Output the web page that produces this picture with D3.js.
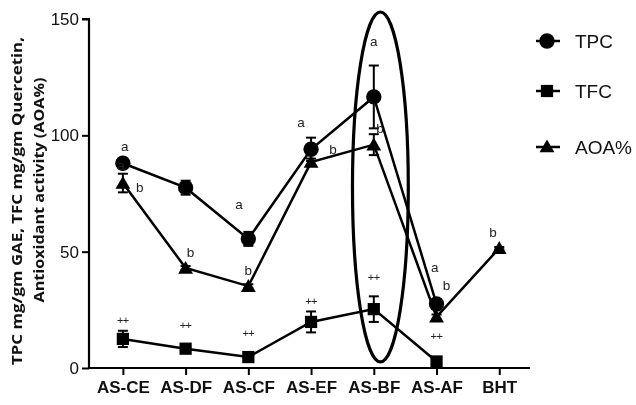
<!DOCTYPE html>
<html><head><meta charset="utf-8">
<script src="https://cdn.jsdelivr.net/npm/d3@7"></script>
<style>body{margin:0;background:#fff}svg{display:block;will-change:transform}</style>
</head><body>
<script>
const categories = ["AS-CE","AS-DF","AS-CF","AS-EF","AS-BF","AS-AF","BHT"];
const yTicks = [0,50,100,150];
const tpc = [88, 77.5, 55.5, 94, 116.5, 27.5, null];
const tpcErr = [1.5, 3, 3, 5, 13.5, 2, null];
const tfc = [12.5, 8.3, 4.7, 19.8, 25.3, 2.8, null];
const tfcErr = [3.5, 1.5, 1.2, 4.5, 5.5, 0.8, null];
const aoa = [79.5, 43, 35.2, 88.5, 96, 22, 51.5];
const aoaErr = [4, 0.8, 0.8, 1.5, 4.5, 1, 0.5];
const tpcLetters = ["a","a","a","a","a","a"];
const tpcLetterIdx = [0.03, -0.03, 1.85, 2.84, 4, 4.97];
const tpcLetterVal = [95.4, 87.2, 70.5, 105.7, 140.5, 43.4];
const aoaLetters = ["b","b","b","b","b","b","b"];
const aoaLetterIdx = [0.27, 1.08, 2, 3.35, 4.1, 5.16, 5.9];
const aoaLetterVal = [77.8, 49.8, 42.1, 94.1, 103.1, 35.7, 58.4];
const tfcMarks = ["++","++","++","++","++","++"];
const tfcMarkVal = [20.6, 18.5, 15, 28.8, 39.1, 13.8];
const legendNames = ["TPC","TFC","AOA%"];
const yTitle = ["TPC mg/gm GAE, TFC mg/gm Quercetin,", "Antioxidant activity (AOA%)"];
const ellipseIdx = [3.66, 4.55];
const ellipseVal = [2.6, 153];

const W = 636, H = 405;
const svg = d3.select("body").append("svg").attr("width", W).attr("height", H);
const x = d3.scaleLinear().domain([-0.54, 6.49]).range([89, 530]);
const y = d3.scaleLinear().domain([0, 150]).range([368, 19]);

// axes
const yAxis = svg.append("g").attr("transform", `translate(${x(-0.54)},0)`)
  .call(d3.axisLeft(y).tickValues(yTicks).tickSize(7).tickPadding(3));
yAxis.select(".domain").attr("stroke-width", 2.2).attr("d", `M-7,${y(150)}H0V${y(0)}`);
yAxis.selectAll(".tick line").attr("stroke-width", 2);
yAxis.selectAll(".tick text").attr("font-family", "Liberation Sans, Arial, sans-serif").attr("font-size", 17).attr("fill","#111");

const xAxis = svg.append("g").attr("transform", `translate(0,${y(0)})`)
  .call(d3.axisBottom(x).tickValues(d3.range(categories.length)).tickFormat(i => categories[i]).tickSize(7).tickPadding(6));
xAxis.select(".domain").attr("stroke-width", 2.2).attr("d", `M${x(-0.54)},0H${x(6.49)}`);
xAxis.selectAll(".tick line").attr("stroke-width", 2);
xAxis.selectAll(".tick text").attr("font-family", "Liberation Sans, Arial, sans-serif").attr("font-size", 17).attr("font-weight", "bold").attr("fill","#111");

// y title
const yt = svg.append("g").attr("transform", "rotate(-90)");
const titleCenters = [201, 190], titleBase = [22, 44], titleLen = [328, 225];
yTitle.forEach((t, i) => {
  yt.append("text").attr("x", -titleCenters[i]).attr("y", titleBase[i]).attr("text-anchor", "middle")
    .attr("font-family", "Open Sans, sans-serif").attr("font-weight", "bold").attr("font-size", 15)
    .attr("textLength", titleLen[i]).attr("lengthAdjust", "spacingAndGlyphs")
    .attr("fill", "#111").text(t);
});

// ellipse
svg.append("ellipse")
  .attr("cx", (x(ellipseIdx[0]) + x(ellipseIdx[1])) / 2)
  .attr("cy", (y(ellipseVal[0]) + y(ellipseVal[1])) / 2)
  .attr("rx", (x(ellipseIdx[1]) - x(ellipseIdx[0])) / 2)
  .attr("ry", (y(ellipseVal[0]) - y(ellipseVal[1])) / 2)
  .attr("fill", "none").attr("stroke", "#000").attr("stroke-width", 3.2);

const line = d3.line().defined(d => d.v != null).x(d => x(d.i)).y(d => y(d.v));
function series(vals) { return vals.map((v, i) => ({i, v})); }

function drawErr(vals, errs) {
  const g = svg.append("g").attr("stroke", "#000").attr("stroke-width", 2);
  vals.forEach((v, i) => {
    if (v == null || !errs[i]) return;
    const cx = x(i), y1 = y(v + errs[i]), y2 = y(v - errs[i]);
    g.append("line").attr("x1", cx).attr("x2", cx).attr("y1", y1).attr("y2", y2);
    g.append("line").attr("x1", cx - 5).attr("x2", cx + 5).attr("y1", y1).attr("y2", y1);
    g.append("line").attr("x1", cx - 5).attr("x2", cx + 5).attr("y1", y2).attr("y2", y2);
  });
}

[tpc, tfc, aoa].forEach(vals => {
  svg.append("path").datum(series(vals)).attr("d", line)
    .attr("fill", "none").attr("stroke", "#000").attr("stroke-width", 2.5);
});
drawErr(tpc, tpcErr); drawErr(tfc, tfcErr); drawErr(aoa, aoaErr);

const sym = [d3.symbolCircle, d3.symbolSquare, d3.symbolTriangle];
const symSize = [185, 150, 95];
[tpc, tfc, aoa].forEach((vals, k) => {
  svg.append("g").selectAll("path").data(series(vals).filter(d => d.v != null)).join("path")
    .attr("d", d3.symbol(sym[k], symSize[k]))
    .attr("transform", d => `translate(${x(d.i)},${y(d.v) + (k === 2 ? 1.5 : 0)})`)
    .attr("fill", "#000");
});

// annotations
const ann = svg.append("g").attr("font-family", "Liberation Sans, Arial, sans-serif").attr("fill", "#222").attr("text-anchor", "middle");
tpcLetters.forEach((t, i) => ann.append("text").attr("x", x(tpcLetterIdx[i])).attr("y", y(tpcLetterVal[i])).attr("dy", "0.35em").attr("font-size", 13.5).text(t));
aoaLetters.forEach((t, i) => ann.append("text").attr("x", x(aoaLetterIdx[i])).attr("y", y(aoaLetterVal[i])).attr("dy", "0.35em").attr("font-size", 13.5).text(t));
tfcMarks.forEach((t, i) => ann.append("text").attr("x", x(i)).attr("y", y(tfcMarkVal[i])).attr("dy", "0.35em").attr("font-size", 11).attr("letter-spacing", -0.5).text(t));

// legend
const leg = svg.append("g");
const legY = [41, 91, 147];
legendNames.forEach((n, k) => {
  const g = leg.append("g").attr("transform", `translate(547,${legY[k]})`);
  g.append("line").attr("x1", -11).attr("x2", 13).attr("stroke", "#000").attr("stroke-width", 2.5);
  g.append("path").attr("d", d3.symbol(sym[k], symSize[k])).attr("fill", "#000").attr("transform", k === 2 ? "translate(0,1)" : null);
  g.append("text").attr("x", 28).attr("dy", "0.36em").attr("font-family", "Liberation Sans, Arial, sans-serif")
    .attr("font-size", 19).attr("fill", "#111").text(n);
});
</script>
</body></html>
